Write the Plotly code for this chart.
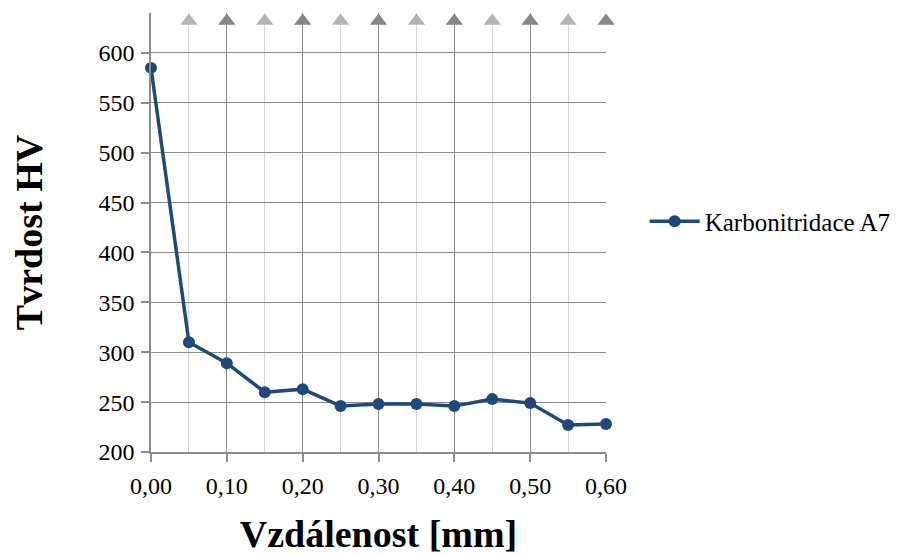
import plotly.graph_objects as go

distance_mm = [0.00, 0.05, 0.10, 0.15, 0.20, 0.25, 0.30, 0.35, 0.40, 0.45, 0.50, 0.55, 0.60]
hardness_hv = [585, 310, 289, 260, 263, 246, 248, 248, 246, 253, 249, 227, 228]
series_name = "Karbonitridace A7"

marker_x = [0.05, 0.10, 0.15, 0.20, 0.25, 0.30, 0.35, 0.40, 0.45, 0.50, 0.55, 0.60]
marker_level = [632] * len(marker_x)
marker_colors = ["#b4b4b4" if i % 2 == 0 else "#868686" for i in range(len(marker_x))]

font_family = "Times New Roman, Liberation Serif, serif"

fig = go.Figure()
fig.add_trace(go.Scatter(
    x=marker_x, y=marker_level, mode="markers", showlegend=False, hoverinfo="skip",
    marker=dict(symbol="triangle-up", size=15, color=marker_colors, line=dict(width=0)),
    cliponaxis=False,
))
fig.add_trace(go.Scatter(
    x=distance_mm, y=hardness_hv, mode="lines+markers", name=series_name,
    line=dict(color="#1F497D", width=3.5),
    marker=dict(size=12, color="#1F497D"),
    cliponaxis=False,
))

fig.update_layout(
    template="none",
    width=896, height=547,
    margin=dict(l=143, r=298, t=5, b=103),
    paper_bgcolor="white", plot_bgcolor="white",
    separators=", ",
    font=dict(family=font_family, color="black", size=24),
    showlegend=True,
    legend=dict(x=1.085, xanchor="left", y=0.525, yanchor="middle",
                font=dict(family=font_family, size=25, color="black"),
                bgcolor="rgba(0,0,0,0)", itemwidth=50),
    xaxis=dict(
        range=[0, 0.6], dtick=0.1, tick0=0, tickformat=".2f",
        showgrid=True, gridcolor="#8c8c8c", gridwidth=1,
        minor=dict(dtick=0.05, showgrid=True, gridcolor="#d4d4d4", gridwidth=1),
        showline=True, linecolor="#8c8c8c", linewidth=1.5,
        ticks="outside", ticklen=8, tickcolor="#8c8c8c", tickwidth=1.5,
        ticklabelstandoff=3,
        tickfont=dict(family=font_family, size=24, color="black"), zeroline=False,
        title=dict(text="<b>Vzdálenost [mm]</b>",
                   font=dict(family=font_family, size=38, color="black"), standoff=26),
        automargin=False,
    ),
    yaxis=dict(
        range=[200, 640], tickvals=[200, 250, 300, 350, 400, 450, 500, 550, 600],
        showgrid=True, gridcolor="#8c8c8c", gridwidth=1,
        showline=True, linecolor="#8c8c8c", linewidth=1.5,
        ticks="outside", ticklen=8, tickcolor="#8c8c8c", tickwidth=1.5,
        ticklabelstandoff=2,
        tickfont=dict(family=font_family, size=24, color="black"), zeroline=False,
        title=dict(text="<b>Tvrdost HV</b>",
                   font=dict(family=font_family, size=38, color="black"), standoff=46),
        automargin=False,
    ),
)

fig.write_html("out.html")
